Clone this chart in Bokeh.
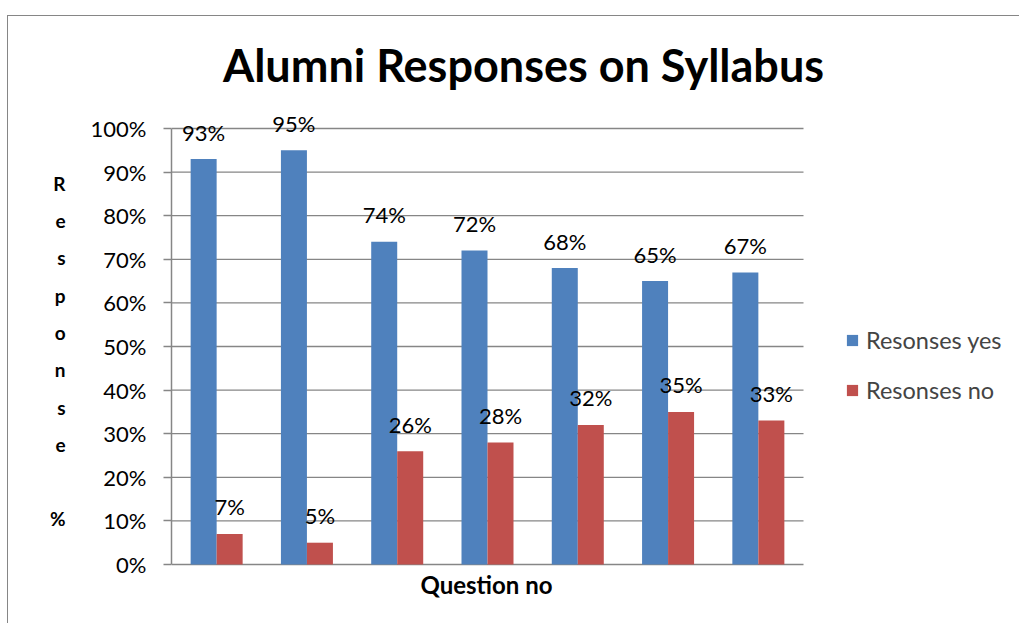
from bokeh.plotting import figure
from bokeh.models import (ColumnDataSource, Range1d, LabelSet, Label,
                          Legend, LegendItem, PrintfTickFormatter, FixedTicker)
from bokeh.transform import dodge
from bokeh.embed import file_html
from bokeh.resources import INLINE
from bokeh.core.properties import value

questions = ["Q1", "Q2", "Q3", "Q4", "Q5", "Q6", "Q7"]
yes = [93, 95, 74, 72, 68, 65, 67]
no = [7, 5, 26, 28, 32, 35, 33]
yticks = [0, 10, 20, 30, 40, 50, 60, 70, 80, 90, 100]
series_names = ["Resonses yes", "Resonses no"]
title_text = "Alumni Responses on Syllabus"
ylabel_text = "\nR\ne\ns\np\no\nn\ns\ne\n\n%"
xlabel = "Question no"

BLUE = "#4F81BD"
RED = "#C0504D"
GRAY = "#868686"
FONT = "Lato"

# canvas geometry (pixels)
W, H = 1012, 608
LEFT, TOP = 163, 24            # frame left / top inside canvas
PLOT_W, PLOT_TOP, PLOT_BOT = 632, 112, 548   # bar-area width, 100% and 0% rows
n = len(questions)
px_x = PLOT_W / n
px_y = (PLOT_BOT - PLOT_TOP) / 100.0
x_end = (W - LEFT) / px_x
y_start = -(H - PLOT_BOT) / px_y
y_end = 100 + (PLOT_TOP - TOP) / px_y

pos = [i + 0.5 for i in range(n)]
src = ColumnDataSource(dict(q=questions, pos=pos, yes=yes, no=no,
                            yes_lbl=[f"{v}%" for v in yes],
                            no_lbl=[f"{v}%" for v in no]))

p = figure(width=W, height=H, x_range=Range1d(0, x_end), y_range=Range1d(y_start, y_end),
           output_backend="svg", toolbar_location=None,
           min_border_left=LEFT, min_border_right=0, min_border_top=TOP,
           min_border_bottom=0)
p.styles = {"margin-left": "7px", "margin-top": "15px",
            "border-left": "1px solid #868686", "border-top": "1px solid #868686"}
p.outline_line_color = None
p.background_fill_color = "white"
p.border_fill_color = "white"
p.xaxis.visible = False
p.xgrid.grid_line_color = None
p.ygrid.grid_line_color = None

# gridlines (incl. category axis line at 0%) across the bar area
p.segment(x0=[0] * len(yticks), x1=[n] * len(yticks), y0=yticks, y1=yticks,
          line_color=GRAY, line_width=1.3)

rb = p.vbar(x=dodge("pos", -0.144), top="yes", width=0.288, source=src,
            fill_color=BLUE, line_color=None)
rr = p.vbar(x=dodge("pos", 0.144), top="no", width=0.288, source=src,
            fill_color=RED, line_color=None)

for col, lbl, off in (("yes", "yes_lbl", -0.144), ("no", "no_lbl", 0.144)):
    p.add_layout(LabelSet(x=dodge("pos", off), y=col, text=lbl, source=src,
                          text_align="center", text_baseline="alphabetic", y_offset=18.5,
                          text_font=value(FONT), text_font_size=value("22px"),
                          text_color="black"))

# value axis
p.yaxis.bounds = (0, 100)
p.yaxis.ticker = FixedTicker(ticks=yticks)
p.yaxis.formatter = PrintfTickFormatter(format="%d%%")
p.yaxis.major_label_text_font = FONT
p.yaxis.major_label_text_font_size = "22px"
p.yaxis.major_label_text_color = "black"
p.yaxis.major_tick_out = 8
p.yaxis.major_tick_in = 0
p.yaxis.minor_tick_line_color = None
p.yaxis.major_tick_line_color = GRAY
p.yaxis.major_tick_line_width = 1.5
p.yaxis.axis_line_color = GRAY
p.yaxis.axis_line_width = 1.5
p.yaxis.major_label_standoff = 17
p.yaxis.axis_label = ylabel_text
p.yaxis.axis_label_orientation = "horizontal"
p.yaxis.axis_label_text_font = FONT
p.yaxis.axis_label_text_font_style = "bold"
p.yaxis.axis_label_text_font_size = "19px"
p.yaxis.axis_label_text_color = "black"
p.yaxis.axis_label_text_line_height = 1.62
p.yaxis.axis_label_standoff = 22

# title and category-axis label
p.add_layout(Label(x=514, y=47, x_units="canvas", y_units="canvas", text=title_text,
                   text_align="center", text_baseline="alphabetic", text_font=FONT,
                   text_font_style="bold", text_font_size="45px", text_color="black"))
p.add_layout(Label(x=477, y=567, x_units="canvas", y_units="canvas", text=xlabel,
                   text_align="center", text_baseline="alphabetic", text_font=FONT,
                   text_font_style="bold", text_font_size="24px", text_color="black"))

legend = Legend(items=[LegendItem(label=series_names[0], renderers=[rb]),
                       LegendItem(label=series_names[1], renderers=[rr])],
                location=(674, 220), orientation="vertical",
                label_text_font=FONT, label_text_font_size="23.5px",
                glyph_width=14, glyph_height=14, spacing=22, padding=0, margin=0,
                border_line_color=None, background_fill_alpha=0, label_standoff=7)
p.add_layout(legend)

open("out.html", "w").write(file_html(p, INLINE))
